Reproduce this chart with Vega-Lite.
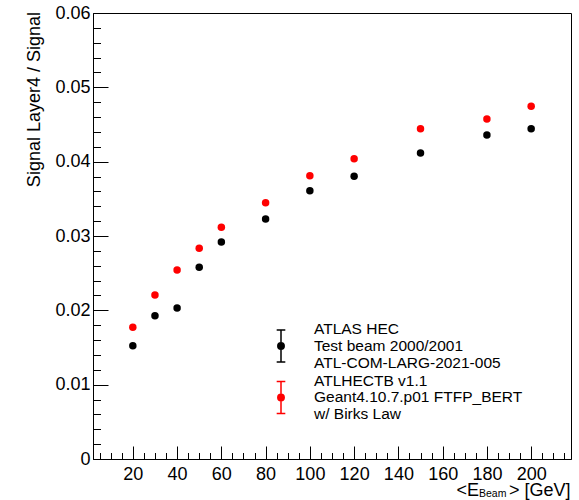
{
  "$schema": "https://vega.github.io/schema/vega-lite/v6.json",
  "width": 478,
  "height": 446,
  "autosize": "none",
  "padding": {"left": 93, "top": 13, "right": 8, "bottom": 41},
  "background": "white",
  "config": {
    "view": {"stroke": "black", "strokeWidth": 1},
    "font": "Liberation Sans"
  },
  "data": {
    "values": [
      {"energy": 20, "ratio": 0.01524, "series": "ATLAS HEC"},
      {"energy": 30, "ratio": 0.01928, "series": "ATLAS HEC"},
      {"energy": 40, "ratio": 0.02031, "series": "ATLAS HEC"},
      {"energy": 50, "ratio": 0.02579, "series": "ATLAS HEC"},
      {"energy": 60, "ratio": 0.02919, "series": "ATLAS HEC"},
      {"energy": 80, "ratio": 0.03229, "series": "ATLAS HEC"},
      {"energy": 100, "ratio": 0.0361, "series": "ATLAS HEC"},
      {"energy": 120, "ratio": 0.03803, "series": "ATLAS HEC"},
      {"energy": 150, "ratio": 0.04117, "series": "ATLAS HEC"},
      {"energy": 180, "ratio": 0.04359, "series": "ATLAS HEC"},
      {"energy": 200, "ratio": 0.04444, "series": "ATLAS HEC"},
      {"energy": 20, "ratio": 0.01772, "series": "ATLHECTB v1.1"},
      {"energy": 30, "ratio": 0.02206, "series": "ATLHECTB v1.1"},
      {"energy": 40, "ratio": 0.02543, "series": "ATLHECTB v1.1"},
      {"energy": 50, "ratio": 0.02835, "series": "ATLHECTB v1.1"},
      {"energy": 60, "ratio": 0.03117, "series": "ATLHECTB v1.1"},
      {"energy": 80, "ratio": 0.03448, "series": "ATLHECTB v1.1"},
      {"energy": 100, "ratio": 0.03812, "series": "ATLHECTB v1.1"},
      {"energy": 120, "ratio": 0.0404, "series": "ATLHECTB v1.1"},
      {"energy": 150, "ratio": 0.04444, "series": "ATLHECTB v1.1"},
      {"energy": 180, "ratio": 0.04574, "series": "ATLHECTB v1.1"},
      {"energy": 200, "ratio": 0.04745, "series": "ATLHECTB v1.1"}
    ]
  },
  "resolve": {"axis": {"x": "independent", "y": "independent"}},
  "layer": [
    {
      "mark": {"type": "point", "filled": true, "size": 56, "opacity": 1, "shape": "circle"},
      "encoding": {
        "x": {
          "field": "energy",
          "type": "quantitative",
          "scale": {"domain": [2, 218], "nice": false, "zero": false},
          "axis": {
            "orient": "bottom",
            "values": [20, 40, 60, 80, 100, 120, 140, 160, 180, 200],
            "tickSize": -13,
            "labelPadding": 19,
            "labelFontSize": 18,
            "labelColor": "black",
            "labelOverlap": false,
            "labelFlush": false,
            "tickColor": "black",
            "domainColor": "black",
            "grid": false,
            "title": "<E\u00a0\u00a0\u00a0\u00a0\u00a0\u00a0> [GeV]",
            "titleFontSize": 18,
            "titleFontWeight": "normal",
            "titleColor": "black",
            "titleAlign": "right",
            "titleBaseline": "alphabetic",
            "titleX": 477,
            "titleY": 36
          }
        },
        "y": {
          "field": "ratio",
          "type": "quantitative",
          "scale": {"domain": [0, 0.06], "nice": false, "zero": false},
          "axis": {
            "orient": "left",
            "values": [0, 0.01, 0.02, 0.03, 0.04, 0.05, 0.06],
            "labelExpr": "datum.value == 0 ? '0' : format(datum.value, '.2f')",
            "tickSize": -15,
            "labelPadding": 18,
            "labelFontSize": 18,
            "labelColor": "black",
            "labelOverlap": false,
            "labelFlush": false,
            "tickColor": "black",
            "domainColor": "black",
            "grid": false,
            "title": "Signal Layer4 / Signal",
            "titleFontSize": 18,
            "titleFontWeight": "normal",
            "titleColor": "black",
            "titleAngle": -90,
            "titleAlign": "right",
            "titleBaseline": "alphabetic",
            "titleX": -54,
            "titleY": -1.5
          }
        },
        "color": {
          "field": "series",
          "type": "nominal",
          "scale": {"domain": ["ATLAS HEC", "ATLHECTB v1.1"], "range": ["black", "red"]},
          "legend": {
            "orient": "none",
            "legendX": 171,
            "legendY": 316,
            "title": null,
            "direction": "vertical",
            "symbolType": "M-0.27,-1H0.27M0,-1V1M-0.27,1H0.27M0.2,0A0.2,0.2 0 1 1 -0.2,0A0.2,0.2 0 1 1 0.2,0Z",
            "symbolSize": 1024,
            "symbolStrokeWidth": 1.5,
            "symbolOpacity": 1,
            "labelFontSize": 15.5,
            "labelColor": "black",
            "labelLimit": 0,
            "labelOffset": 16,
            "labelBaseline": "middle",
            "rowPadding": 1.5,
            "padding": 0,
            "labelExpr": "datum.label == 'ATLAS HEC' ? ['ATLAS HEC', 'Test beam 2000/2001', 'ATL-COM-LARG-2021-005'] : ['ATLHECTB v1.1', 'Geant4.10.7.p01 FTFP_BERT', 'w/ Birks Law']",
            "encode": {
              "symbols": {"update": {"stroke": {"scale": "color", "field": "value"}}},
              "labels": {"update": {"lineHeight": {"value": 16.8}, "dy": {"value": -16.8}}}
            }
          }
        }
      }
    },
    {
      "mark": {"type": "point", "filled": true, "size": 56, "opacity": 0},
      "encoding": {
        "x": {
          "field": "energy",
          "type": "quantitative",
          "axis": {
            "orient": "bottom",
            "values": [5,10,15,25,30,35,45,50,55,65,70,75,85,90,95,105,110,115,125,130,135,145,150,155,165,170,175,185,190,195,205,210,215],
            "tickSize": -6.5,
            "labels": false,
            "domain": false,
            "grid": false,
            "title": null,
            "tickColor": "black"
          }
        },
        "y": {
          "field": "ratio",
          "type": "quantitative",
          "axis": {
            "orient": "left",
            "values": [0.002,0.004,0.006,0.008,0.012,0.014,0.016,0.018,0.022,0.024,0.026,0.028,0.032,0.034,0.036,0.038,0.042,0.044,0.046,0.048,0.052,0.054,0.056,0.058],
            "tickSize": -7.5,
            "labels": false,
            "domain": false,
            "grid": false,
            "title": null,
            "tickColor": "black"
          }
        }
      }
    },
    {
      "data": {"values": [{"sub": "Beam"}]},
      "mark": {"type": "text", "fontSize": 10.5, "align": "right", "baseline": "alphabetic", "color": "black", "font": "Liberation Sans"},
      "encoding": {
        "x": {"datum": 188.8, "type": "quantitative", "axis": null},
        "y": {"datum": -0.00511, "type": "quantitative", "axis": null},
        "text": {"field": "sub"}
      }
    }
  ]
}
